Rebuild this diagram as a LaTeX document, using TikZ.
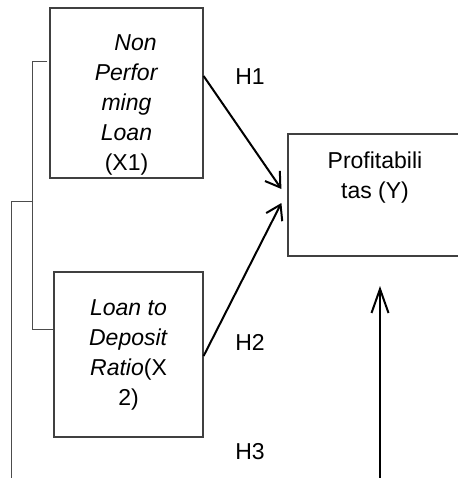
\documentclass[tikz,border=0pt]{standalone}
\usepackage{fontspec}
\setmainfont{Liberation Sans}
\usetikzlibrary{arrows.meta,positioning}

\tikzset{
  varbox/.style={rectangle,draw=black!75,line width=1.2pt,inner sep=0pt},
  vartext/.style={align=center,inner sep=0pt,font=\fontsize{23}{30}\selectfont},
  hyp/.style={inner sep=0pt,font=\fontsize{23}{30}\selectfont},
  link/.style={line width=1pt,draw=black!70},
  effect/.style={line width=2pt,-{Straight Barb[length=14pt,width=18pt,line width=2pt]}},
  longhead/.style={-{Straight Barb[length=24pt,width=17pt,line width=2pt]}},
}

\begin{document}
\begin{tikzpicture}[x=1pt,y=-1pt]
	\useasboundingbox (0,0) rectangle (457,478);

	% variables
	\node[varbox,minimum width=153pt,minimum height=170pt] (x1) at (126.5,93) {};
	\node[varbox,minimum width=149pt,minimum height=165pt] (x2) at (128.5,354.5) {};
	\node[varbox,minimum width=174pt,minimum height=122pt] (y) at (375,195) {};

	\node[vartext,below=27pt of x1.north] (x1t)
		{\hspace*{18pt}\textit{Non}\\ \textit{Perfor}\\ \textit{ming}\\ \textit{Loan}\\ (X1)};
	\node[vartext,below=28pt of x2.north] (x2t)
		{\textit{Loan to}\\ \textit{Deposit}\\ \textit{Ratio}(X\\ 2)};
	\node[vartext,below=18pt of y.north] (yt)
		{Profitabili\\ tas (Y)};

	% hypotheses
	\node[hyp] (h1) at (250,77) {H1};
	\node[hyp] (h2) at (250,342) {H2};
	\node[hyp] (h3) at (250,452) {H3};

	\draw[effect] ([yshift=17pt]x1.east) -- ([xshift=-6pt,yshift=6pt]y.west);
	\draw[effect] ([yshift=-1.5pt]x2.east) -- ([xshift=-6pt,yshift=-8pt]y.west);

	\coordinate (vb) at (380,478);
	\coordinate (vt) at (380,286);
	\draw[effect,longhead] (vb) -- (vt);

	% brackets on the left
	\coordinate (ib) at (33,201);
	\coordinate (ob) at (11,478);
	\draw[link] ([xshift=-2pt,yshift=31pt]x1.west) -- ++(-15,0) |- ([yshift=25.5pt]x2.west);
	\draw[link] (ib) -| (ob);
\end{tikzpicture}
\end{document}
